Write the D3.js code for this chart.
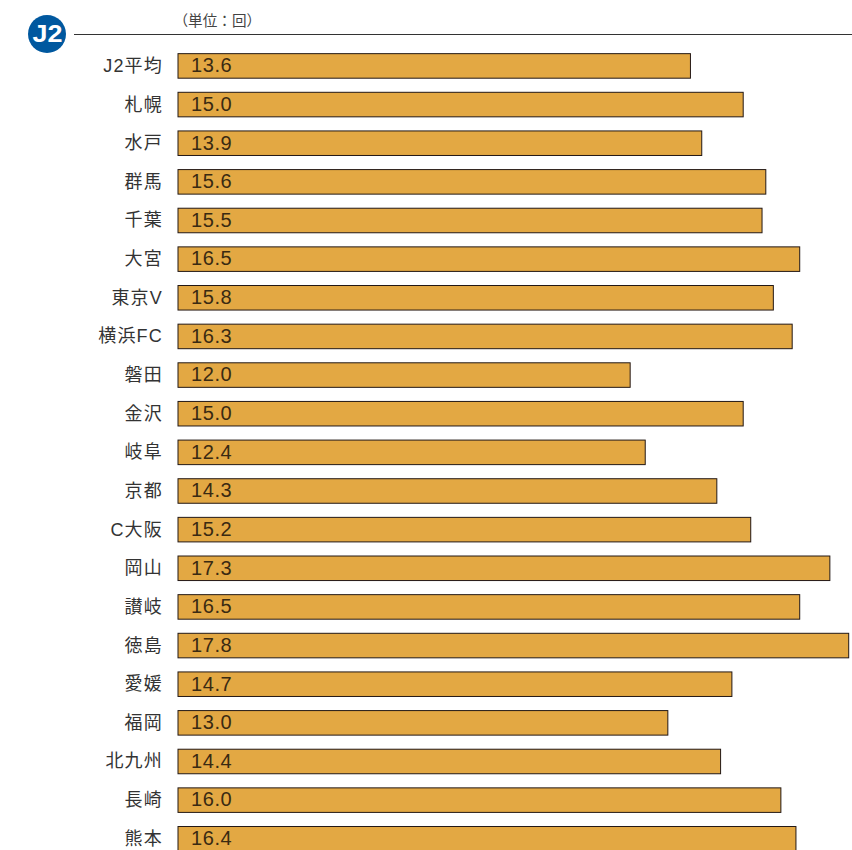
<!DOCTYPE html>
<html><head><meta charset="utf-8"><style>html,body{margin:0;padding:0;background:#fff;overflow:hidden}svg{display:block}</style>
<script src="https://cdn.jsdelivr.net/npm/d3@7/dist/d3.min.js"></script></head><body><script>
const teams=["J2平均","札幌","水戸","群馬","千葉","大宮","東京V","横浜FC","磐田","金沢","岐阜","京都","C大阪","岡山","讃岐","徳島","愛媛","福岡","北九州","長崎","熊本"];
const values=[13.6,15.0,13.9,15.6,15.5,16.5,15.8,16.3,12.0,15.0,12.4,14.3,15.2,17.3,16.5,17.8,14.7,13.0,14.4,16.0,16.4];
const labelTexts=["13.6","15.0","13.9","15.6","15.5","16.5","15.8","16.3","12.0","15.0","12.4","14.3","15.2","17.3","16.5","17.8","14.7","13.0","14.4","16.0","16.4"];
const font='"Liberation Sans","Noto Sans CJK JP",sans-serif';
const svg=d3.select("body").append("svg").attr("width",852).attr("height",850);
const x=d3.scaleLinear().domain([0,17.8]).range([178,848.7]);
const y=d3.scaleBand().domain(teams).range([46.7,858]).paddingInner(0.365).paddingOuter(0.18);
svg.append("line").attr("x1",74).attr("x2",852).attr("y1",34.5).attr("y2",34.5).attr("stroke","#333").attr("stroke-width",1);
svg.append("circle").attr("cx",47).attr("cy",34).attr("r",19).attr("fill","#00589f");
svg.append("text").attr("x",32.5).attr("y",41.5).attr("textLength",30).attr("lengthAdjust","spacingAndGlyphs").attr("fill","#fff").attr("font-family",font).attr("font-weight",700).attr("font-size",23).text("J2");
svg.append("text").attr("x",173.5).attr("y",26).attr("fill","#444").attr("font-family",font).attr("font-size",14.6).text("（単位：回）");
const g=svg.append("g").selectAll("g").data(teams).join("g");
g.append("rect").attr("x",x(0)).attr("y",d=>y(d)).attr("height",y.bandwidth()).attr("width",(d,i)=>x(values[i])-x(0)).attr("fill","#e3a843").attr("stroke","#231815").attr("stroke-width",1);
g.append("text").attr("x",191).attr("y",d=>y(d)+y.bandwidth()/2+6.3).attr("fill","#3a2a12").attr("font-family",font).attr("font-size",20).attr("letter-spacing",0.6).text((d,i)=>labelTexts[i]);
g.append("text").attr("x",163).attr("y",d=>y(d)+y.bandwidth()/2+6).attr("text-anchor","end").attr("fill","#333").attr("font-family",font).attr("font-size",18).attr("letter-spacing",1.2).text(d=>d);
</script></body></html>
